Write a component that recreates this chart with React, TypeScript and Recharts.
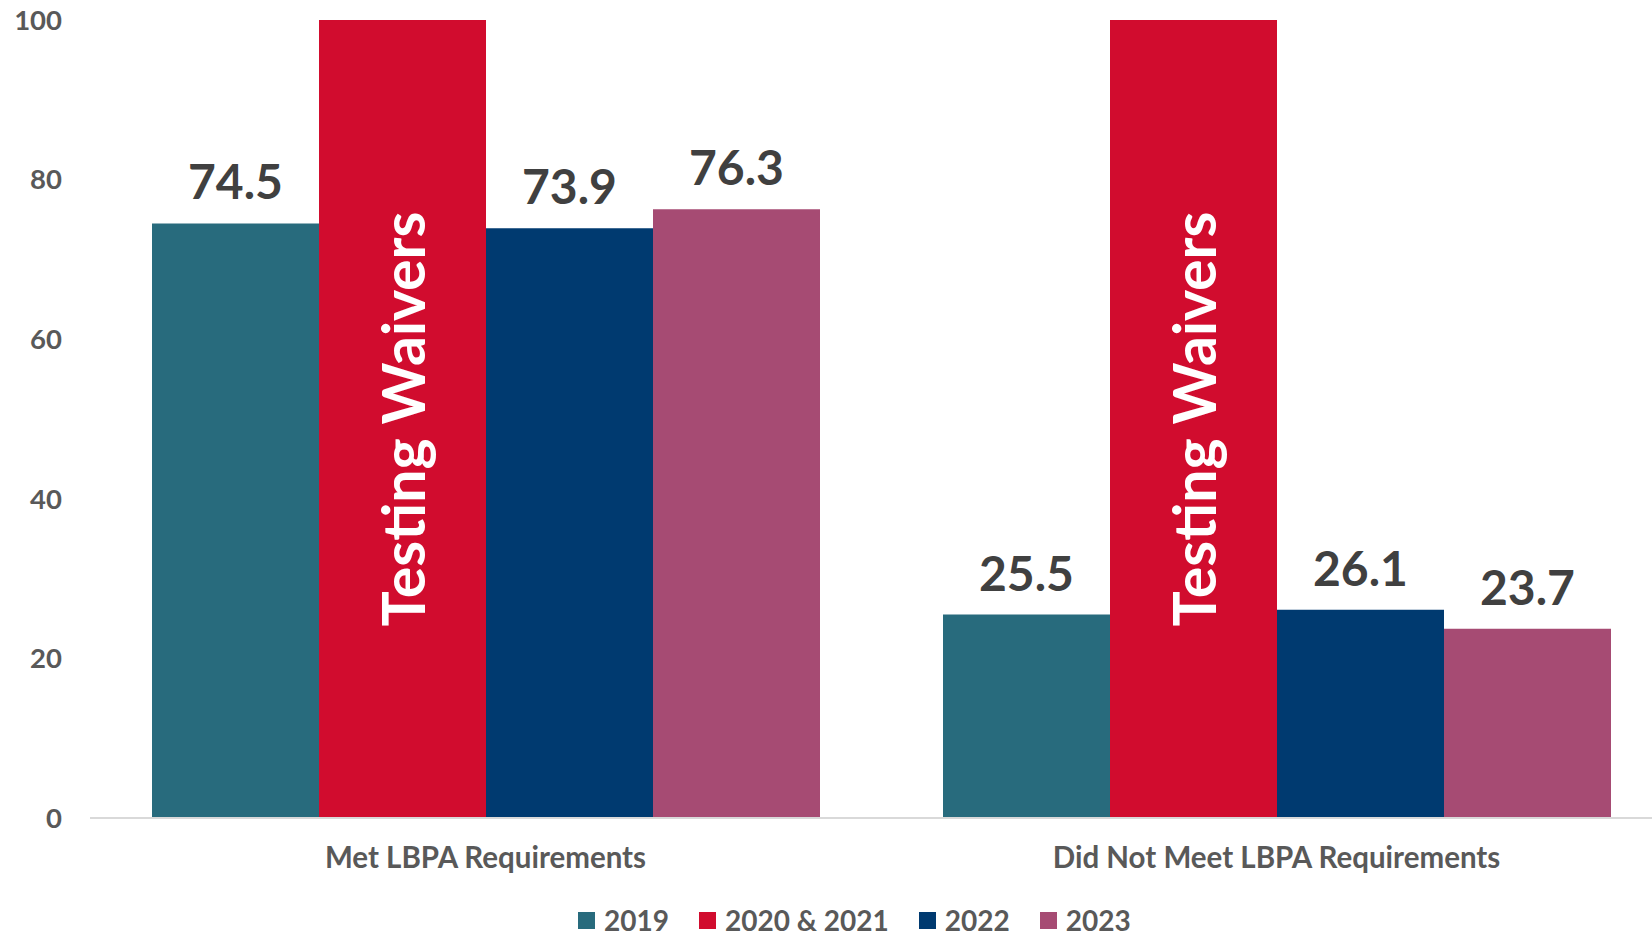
import React from 'react';
import {
  BarChart,
  Bar,
  XAxis,
  YAxis,
  Legend,
  LabelList,
} from 'recharts';

const categories = ['Met LBPA Requirements', 'Did Not Meet LBPA Requirements'];
const seriesNames = ['2019', '2020 & 2021', '2022', '2023'];
const values2019 = [74.5, 25.5];
const values2020and2021 = [100, 100]; // placeholder bars, no testing
const values2022 = [73.9, 26.1];
const values2023 = [76.3, 23.7];
const yTicks = [0, 20, 40, 60, 80, 100];
const waiverText = 'Testing Waivers';

const colors = ['#286B7D', '#D10C2E', '#003A70', '#A64B73'];
const FONT = 'Lato, "Open Sans", sans-serif';

const chartData = categories.map((name, i) => ({
  name,
  s2019: values2019[i],
  s2020: values2020and2021[i],
  s2022: values2022[i],
  s2023: values2023[i],
}));

// rotated white text in the middle of the red bars
const WaiverLabel = (props: any) => {
  const vb = props.viewBox || props;
  const cx = Number(vb.x) + Number(vb.width) / 2;
  const cy = Number(vb.y) + Number(vb.height) / 2;
  return (
    <text
      x={cx}
      y={cy}
      transform={`rotate(-90, ${cx}, ${cy})`}
      textAnchor="middle"
      dominantBaseline="central"
      fill="#ffffff"
      fontFamily={FONT}
      fontWeight={700}
      fontSize={59}
    >
      {waiverText}
    </text>
  );
};

const renderLegend = (props: any) => {
  const { payload } = props;
  return (
    <div
      style={{
        display: 'flex',
        alignItems: 'center',
        fontFamily: FONT,
        fontWeight: 700,
        fontSize: 28,
        lineHeight: '32px',
        color: '#595959',
      }}
    >
      {payload.map((entry: any) => (
        <div
          key={entry.value}
          style={{ display: 'flex', alignItems: 'center', marginRight: 30 }}
        >
          <span
            style={{
              display: 'inline-block',
              width: 17,
              height: 17,
              background: entry.color,
              marginRight: 9,
            }}
          />
          {entry.value}
        </div>
      ))}
    </div>
  );
};

const labelFormat = (v: any) => Number(v).toFixed(1);

export default function App() {
  const valueLabel = {
    fill: '#404040',
    fontSize: 48,
    fontWeight: 700,
    fontFamily: FONT,
  };

  return (
    <div
      style={{
        position: 'absolute',
        left: 0,
        top: 0,
        width: 1652,
        height: 936,
        overflow: 'hidden',
        background: '#ffffff',
      }}
    >
      <BarChart
        width={1680}
        height={936}
        data={chartData}
        margin={{ top: 20, right: 8, left: 0, bottom: 0 }}
        barCategoryGap={62}
        barGap={0}
      >
        <XAxis
          dataKey="name"
          height={118}
          axisLine={{ stroke: '#D9D9D9', strokeWidth: 2 }}
          tickLine={false}
          tickMargin={23}
          tick={{ fill: '#595959', fontSize: 29.5, fontWeight: 700, fontFamily: FONT }}
        />
        <YAxis
          width={90}
          domain={[0, 100]}
          ticks={yTicks}
          axisLine={false}
          tickLine={false}
          tickMargin={22}
          tick={{ fill: '#595959', fontSize: 27.5, fontWeight: 700, fontFamily: FONT }}
        />
        <Legend
          verticalAlign="middle"
          align="center"
          layout="horizontal"
          content={renderLegend}
          wrapperStyle={{ left: 578, top: 904, width: 'auto' }}
        />
        <Bar dataKey="s2019" name={seriesNames[0]} fill={colors[0]} isAnimationActive={false}>
          <LabelList dataKey="s2019" position="top" offset={24} formatter={labelFormat} style={valueLabel} />
        </Bar>
        <Bar dataKey="s2020" name={seriesNames[1]} fill={colors[1]} isAnimationActive={false}>
          <LabelList dataKey="s2020" content={<WaiverLabel />} />
        </Bar>
        <Bar dataKey="s2022" name={seriesNames[2]} fill={colors[2]} isAnimationActive={false}>
          <LabelList dataKey="s2022" position="top" offset={24} formatter={labelFormat} style={valueLabel} />
        </Bar>
        <Bar dataKey="s2023" name={seriesNames[3]} fill={colors[3]} isAnimationActive={false}>
          <LabelList dataKey="s2023" position="top" offset={24} formatter={labelFormat} style={valueLabel} />
        </Bar>
      </BarChart>
    </div>
  );
}
